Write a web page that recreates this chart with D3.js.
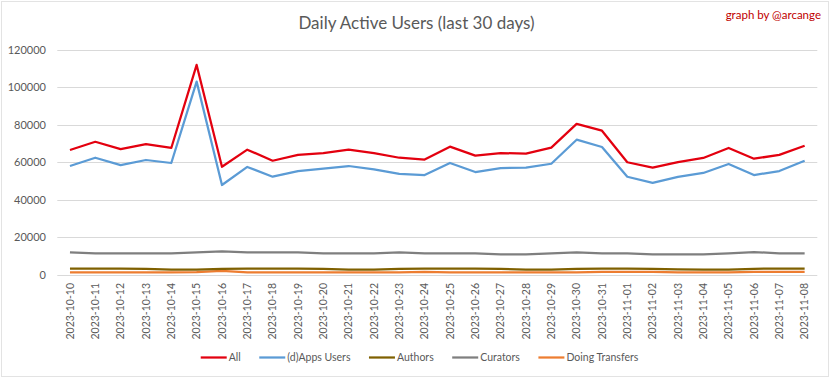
<!DOCTYPE html>
<html><head><meta charset="utf-8">
<script src="https://cdn.jsdelivr.net/npm/d3@7/dist/d3.min.js"></script>
<style>body{margin:0;background:#fff;} text{font-family:Lato, "Open Sans", sans-serif;}</style>
</head><body><svg id="c" width="833" height="379"></svg>
<script>
const dates = ["2023-10-10","2023-10-11","2023-10-12","2023-10-13","2023-10-14","2023-10-15","2023-10-16","2023-10-17","2023-10-18","2023-10-19","2023-10-20","2023-10-21","2023-10-22","2023-10-23","2023-10-24","2023-10-25","2023-10-26","2023-10-27","2023-10-28","2023-10-29","2023-10-30","2023-10-31","2023-11-01","2023-11-02","2023-11-03","2023-11-04","2023-11-05","2023-11-06","2023-11-07","2023-11-08"];
const allUsers = [66500,70900,67000,69700,67600,111800,57600,66700,60800,63900,64900,66700,64900,62400,61400,68300,63500,64900,64600,67800,80400,76800,60000,57100,60100,62300,67600,61900,63900,68800];
const appsUsers = [58000,62400,58500,61200,59600,102900,47900,57500,52300,55300,56600,58000,56200,53800,53200,59600,54800,56900,57100,59200,72000,68100,52300,49000,52200,54300,59100,53200,55300,60800];
const authors = [3400,3400,3400,3300,2900,2900,3300,3400,3400,3400,3300,2900,2900,3300,3400,3400,3400,3300,2900,2900,3300,3400,3400,3300,3000,2900,2900,3300,3400,3400];
const curators = [12000,11500,11500,11500,11500,12000,12600,12000,12000,12000,11500,11500,11500,12000,11500,11500,11500,11000,11000,11500,12000,11500,11500,11000,11000,11000,11500,12200,11500,11500];
const transfers = [1400,1400,1400,1400,1400,1500,2200,1400,1400,1400,1400,1400,1400,1400,1700,1400,1400,1400,1400,1400,1400,1700,1700,1700,1400,1400,1400,1700,1700,1700];
const yTicks = [0,20000,40000,60000,80000,100000,120000];
const seriesNames = ["All","(d)Apps Users","Authors","Curators","Doing Transfers"];
const seriesColors = ["#E3000F","#5B9BD5","#7F6000","#7F7F7F","#ED7D31"];

const series = [allUsers, appsUsers, authors, curators, transfers];
const svg = d3.select("#c");
svg.append("rect").attr("x",1.5).attr("y",1.5).attr("width",827).attr("height",375).attr("fill","#fff").attr("stroke","#e3e3e3").attr("stroke-width",1);

const x = d3.scaleBand().domain(dates).range([57.3,817.3]).padding(0);
const y = d3.scaleLinear().domain([0,120000]).range([275,49.5]);

// grid
const grid = svg.append("g");
grid.selectAll("line").data(yTicks).join("line")
  .attr("x1",57.3).attr("x2",817.3)
  .attr("y1",d=>Math.round(y(d))+0.5).attr("y2",d=>Math.round(y(d))+0.5)
  .attr("stroke","#d9d9d9").attr("stroke-width",1);

// y axis labels
const yAxis = d3.axisLeft(y).tickValues(yTicks).tickSize(0).tickPadding(0).tickFormat(d=>String(d));
const ga = svg.append("g").attr("transform","translate(46,0)").call(yAxis);
ga.select(".domain").remove();
ga.selectAll("text").attr("fill","#595959").style("font-size","11px").style("font-family","Lato");

// x axis labels
const xAxis = d3.axisBottom(x).tickSize(0).tickPadding(0);
const gx = svg.append("g").attr("transform","translate(0,283)").call(xAxis);
gx.select(".domain").remove();
gx.selectAll("text").attr("fill","#595959").style("font-size","10.5px").style("font-family","Lato")
  .attr("text-anchor","end").attr("dy",null).attr("y",0).attr("x",0)
  .attr("transform","rotate(-90)").attr("dx",0).attr("dy","0.35em");

// lines
const line = d3.line().x((d,i)=>x(dates[i])+x.bandwidth()/2).y(d=>y(d));
const order = [4,3,2,1,0];
order.forEach(k=>{
  svg.append("path").datum(series[k]).attr("d",line).attr("fill","none")
    .attr("stroke",seriesColors[k]).attr("stroke-width",2.25).attr("stroke-linejoin","round");
});

// title
svg.append("text").attr("x",416.5).attr("y",29).attr("text-anchor","middle")
  .attr("fill","#595959").style("font-size","17px").text("Daily Active Users (last 30 days)");
svg.append("text").attr("x",821).attr("y",19).attr("text-anchor","end")
  .attr("fill","#C00000").style("font-size","11.5px").text("graph by @arcange");

// legend
const lg = svg.append("g");
let cx = 0;
const items = [];
seriesNames.forEach((n,i)=>{
  const g = lg.append("g");
  g.append("line").attr("x1",0).attr("x2",26).attr("y1",0).attr("y2",0).attr("stroke",seriesColors[i]).attr("stroke-width",2.25);
  const t = g.append("text").attr("x",28).attr("y",0).attr("dy","0.35em").attr("fill","#595959").style("font-size","10.5px").text(n);
  const w = 28 + t.node().getComputedTextLength();
  items.push({g,w});
});
const gap = 18.5;
const total = d3.sum(items,d=>d.w) + gap*(items.length-1);
cx = 419.5 - total/2;
items.forEach(it=>{ it.g.attr("transform",`translate(${cx},357.5)`); cx += it.w + gap; });
</script></body></html>
